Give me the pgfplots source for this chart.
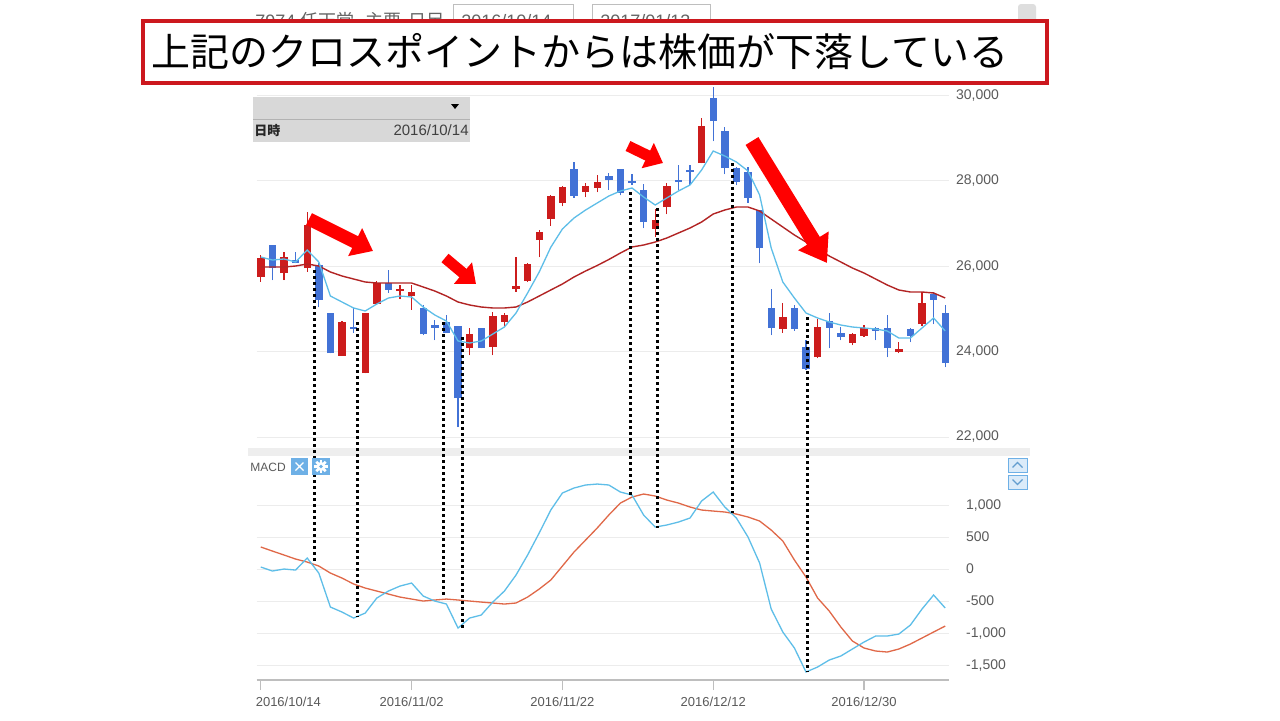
\documentclass[border=0pt]{standalone}
\usepackage{fontspec}
\setmainfont{Liberation Sans}
\newfontfamily\jp{Noto Sans CJK JP}
\usepackage{pgfplots}
\usepackage{pgfplotstable}
\pgfplotsset{compat=1.18}
\usetikzlibrary{arrows.meta}

\definecolor{cUp}{RGB}{204,28,28}
\definecolor{cDn}{RGB}{66,114,214}
\definecolor{maS}{RGB}{94,190,232}
\definecolor{maL}{RGB}{178,36,36}
\definecolor{sigc}{RGB}{224,104,72}
\definecolor{gridc}{RGB}{236,236,236}
\definecolor{labc}{RGB}{90,90,90}
\definecolor{axisc}{RGB}{190,190,190}
\definecolor{arrowc}{RGB}{255,0,0}
\definecolor{titlec}{RGB}{204,24,30}
\definecolor{sepc}{RGB}{238,238,238}
\definecolor{panelc}{RGB}{216,216,216}
\definecolor{btnc}{RGB}{110,176,230}
\definecolor{hdr}{RGB}{100,100,100}

\pgfplotstableread{
i O H L C
0 25743 26257 25626 26187
2 25836 26327 25672 26210
4 25953 27263 25860 26959
7 23895 24713 23895 24690
9 23497 24900 23497 24900
10 25111 25649 25111 25602
12 25415 25556 25228 25462
13 25298 25556 24971 25392
18 24082 24550 23918 24409
20 24105 24924 23918 24830
21 24690 24900 24573 24854
22 25462 26210 25392 25532
23 25649 26070 25626 26047
24 26608 26842 26210 26796
25 27099 27661 26936 27637
26 27474 27871 27400 27848
28 27731 27942 27614 27871
29 27825 28129 27731 27965
34 26866 27333 26679 27076
35 27380 27942 27216 27871
38 28409 29462 28409 29275
45 24526 25135 24433 24807
48 23871 24760 23848 24573
51 24199 24433 24152 24409
52 24363 24620 24340 24550
55 23988 24222 23965 24058
57 24643 25392 24596 25135
}\upT

\pgfplotstableread{
i O H L C
1 26491 26491 25672 25953
3 26140 26327 26070 26070
5 26023 26070 25041 25205
6 24900 24900 23965 23965
8 24573 25018 24433 24526
11 25602 25906 25369 25439
14 25018 25088 24386 24409
15 24620 24737 24269 24550
16 24690 24854 24433 24433
17 24596 24596 22234 22912
19 24550 24550 24082 24082
27 28269 28433 27591 27637
30 28105 28175 27778 28012
31 28269 28269 27650 27708
32 27988 28152 27895 27942
33 27778 27918 26889 27029
36 28012 28363 27778 27965
37 28246 28363 27895 28199
39 29930 30187 28924 29392
40 29158 29251 28152 28292
41 28292 28316 27890 27965
42 28199 28316 27474 27591
43 27310 27310 26070 26421
44 25018 25462 24386 24550
46 25018 25088 24480 24526
47 24105 24269 23568 23591
49 24713 24900 24082 24550
50 24433 24573 24269 24339
53 24550 24573 24269 24480
54 24550 24854 23871 24082
56 24526 24550 24222 24363
58 25345 25392 24643 25205
59 24900 25088 23637 23731
}\dnT

\pgfplotstableread{
i s l
0 26210 25977
1 26140 25977
2 26164 25977
3 26094 26000
4 26374 26047
5 26094 26000
6 25298 25860
7 25158 25766
8 25018 25696
9 24947 25626
10 25111 25602
11 25251 25602
12 25298 25602
13 25275 25602
14 25041 25509
15 24854 25415
16 24713 25298
17 24246 25158
18 24199 25088
19 24246 25041
20 24409 25018
21 24573 25018
22 24900 25041
23 25369 25158
24 25860 25298
25 26440 25439
26 26866 25579
27 27123 25743
28 27310 25883
29 27474 26012
30 27637 26152
31 27754 26304
32 27825 26445
33 27614 26491
34 27427 26561
35 27591 26655
36 27754 26772
37 27895 26889
38 28246 27029
39 28690 27216
40 28573 27310
41 28433 27380
42 28222 27380
43 27661 27287
44 26421 27099
45 25626 26912
46 25251 26725
47 24900 26561
48 24784 26398
49 24690 26234
50 24620 26094
51 24573 25953
52 24550 25836
53 24526 25696
54 24480 25556
55 24316 25439
56 24316 25392
57 24550 25392
58 24784 25369
59 24480 25252
}\maT

\pgfplotstableread{
i m g
0 31 344
1 -31 281
2 0 219
3 -16 156
4 172 109
5 -63 47
6 -594 -63
7 -672 -141
8 -766 -234
9 -688 -297
10 -453 -344
11 -344 -391
12 -266 -438
13 -219 -469
14 -422 -500
15 -500 -484
16 -547 -469
17 -922 -484
18 -766 -500
19 -719 -516
20 -516 -531
21 -344 -547
22 -94 -531
23 219 -438
24 563 -313
25 922 -172
26 1188 47
27 1266 266
28 1313 453
29 1328 641
30 1313 844
31 1203 1031
32 1156 1125
33 844 1172
34 656 1141
35 688 1078
36 734 1031
37 797 969
38 1063 922
39 1203 906
40 969 891
41 797 859
42 500 813
43 94 750
44 -625 609
45 -984 438
46 -1234 141
47 -1609 -125
48 -1531 -453
49 -1422 -656
50 -1359 -906
51 -1250 -1125
52 -1141 -1234
53 -1047 -1281
54 -1047 -1297
55 -1016 -1250
56 -875 -1172
57 -625 -1078
58 -406 -984
59 -609 -891
}\macdT

\pgfplotsset{
  candle/.style={only marks, mark size=0pt, mark options={draw=none, fill=none}, forget plot,
    error bars/.cd, y dir=plus, y explicit, error mark=none},
}

\begin{document}
\begin{tikzpicture}
\path[use as bounding box] (0,0) rectangle (640pt,360pt);
\fill[white] (0,0) rectangle (640pt,360pt);

\begin{scope}[x=0.5pt,y=-0.5pt,shift={(0pt,360pt)}]
  % screenshot header (partly hidden)
  \node[anchor=base west, inner sep=0, font=\fontsize{9}{10}\selectfont, text=hdr] at (255,27) {7974};
  \node[anchor=base west, inner sep=0, font=\jp\fontsize{9}{10}\selectfont, text=hdr] at (300,27) {任天堂};
  \node[anchor=base west, inner sep=0, font=\jp\fontsize{9}{10}\selectfont, text=hdr] at (365,27) {主要};
  \node[anchor=base west, inner sep=0, font=\jp\fontsize{9}{10}\selectfont, text=hdr] at (408,27) {日足};
  \draw[axisc, fill=white, line width=0.5pt] (453,4) rectangle (573,40);
  \draw[axisc, fill=white, line width=0.5pt] (592,4) rectangle (710,40);
  \node[anchor=base west, inner sep=0, font=\fontsize{9}{10}\selectfont, text=hdr] at (461,27) {2016/10/14};
  \node[anchor=base west, inner sep=0, font=\fontsize{9}{10}\selectfont, text=hdr] at (600,27) {2017/01/13};
  \node[anchor=base west, inner sep=0, font=\fontsize{9}{10}\selectfont, text=hdr] at (579,27) {-};
  \fill[rounded corners=1.5pt, black!13] (1018,4) rectangle (1036,22);
  % title box
  \draw[titlec, fill=white, line width=2pt] (143,21) rectangle (1047,83);
  \node[anchor=west, inner sep=0, font=\jp\fontsize{19.5}{20}\selectfont] at (151,52) {上記のクロスポイントからは株価が下落している};
  % separator band
  \fill[sepc] (248,448) rectangle (1030,456);
\end{scope}

% ---------- price panel ----------
\begin{axis}[
  at={(128.25pt,137.225pt)}, anchor=south west,
  width=346.3pt, height=183.83pt, scale only axis,
  xmin=-0.371, xmax=59.336, ymin=21800, ymax=30400,
  axis line style={draw=none},
  xtick=\empty,
  ytick={22000,24000,26000,28000,30000},
  scaled ticks=false,
  yticklabel pos=right,
  ymajorgrids, grid style={draw=gridc, line width=0.5pt},
  tick style={draw=none}, major tick length=0pt,
  yticklabel style={font=\fontsize{7}{8}\selectfont, text=labc},
  /pgf/number format/1000 sep={,},
  /pgf/number format/assume math mode=true,
]
\addplot[cUp, candle, error bar style={draw=cUp, line width=0.65pt}]
  table[x=i, y=L, y error plus expr=\thisrow{H}-\thisrow{L}] {\upT};
\addplot[cUp, candle, error bar style={draw=cUp, line width=3.7pt}]
  table[x=i, y=O, y error plus expr=\thisrow{C}-\thisrow{O}] {\upT};
\addplot[cDn, candle, error bar style={draw=cDn, line width=0.65pt}]
  table[x=i, y=L, y error plus expr=\thisrow{H}-\thisrow{L}] {\dnT};
\addplot[cDn, candle, error bar style={draw=cDn, line width=3.7pt}]
  table[x=i, y=C, y error plus expr=\thisrow{O}-\thisrow{C}] {\dnT};
\addplot[maL, line width=0.7pt, mark=none] table[x=i, y=l] {\maT};
\addplot[maS, line width=0.65pt, mark=none] table[x=i, y=s] {\maT};
\coordinate (T1) at (axis cs:4.59,25906);
\coordinate (T2) at (axis cs:8.30,24690);
\coordinate (T3) at (axis cs:15.72,24690);
\coordinate (T4) at (axis cs:17.35,24339);
\coordinate (T5) at (axis cs:31.88,27731);
\coordinate (T6) at (axis cs:34.16,27356);
\coordinate (T7) at (axis cs:40.65,28409);
\coordinate (T8) at (axis cs:47.12,24807);
\end{axis}

% ---------- MACD panel ----------
\begin{axis}[
  at={(128.25pt,20pt)}, anchor=south west,
  width=346.3pt, height=112pt, scale only axis,
  xmin=-0.371, xmax=59.336, ymin=-1734, ymax=1766,
  axis x line*=bottom, axis y line*=right,
  y axis line style={draw=none},
  x axis line style={draw=axisc, line width=0.6pt},
  xtick={0,13,26,39,52},
  xticklabels={\makebox[0pt][l]{\hspace*{-2.5pt}2016/10/14},2016/11/02,2016/11/22,2016/12/12,2016/12/30},
  ytick={-1500,-1000,-500,0,500,1000},
  scaled ticks=false,
  ymajorgrids, grid style={draw=gridc, line width=0.5pt},
  tick align=outside, major tick length=5pt,
  xtick style={draw=axisc, line width=0.6pt},
  ytick style={draw=none},
  yticklabel style={font=\fontsize{7}{8}\selectfont, text=labc},
  xticklabel style={font=\fontsize{6.5}{7.5}\selectfont, text=labc},
  /pgf/number format/1000 sep={,},
  /pgf/number format/assume math mode=true,
]
\addplot[sigc, line width=0.65pt, mark=none] table[x=i, y=g] {\macdT};
\addplot[maS, line width=0.65pt, mark=none] table[x=i, y=m] {\macdT};
\coordinate (B1) at (axis cs:4.59,94);
\coordinate (B2) at (axis cs:8.30,-750);
\coordinate (B3) at (axis cs:15.72,-438);
\coordinate (B4) at (axis cs:17.35,-922);
\coordinate (B5) at (axis cs:31.88,1156);
\coordinate (B6) at (axis cs:34.16,641);
\coordinate (B7) at (axis cs:40.65,875);
\coordinate (B8) at (axis cs:47.12,-1609);
\end{axis}

% dotted connector lines
\foreach \k in {1,...,8}{
  \draw[black, line width=1.5pt, dash pattern=on 1.5pt off 1.5pt] (T\k) -- (B\k);
}

\begin{scope}[x=0.5pt,y=-0.5pt,shift={(0pt,360pt)}]
  % info panel
  \fill[panelc] (253,97) rectangle (470,142);
  \draw[black!30, line width=0.5pt] (253,119) -- (470,119);
  \fill[black] (451,104) -- (459,104) -- (455,109) -- cycle;
  \node[anchor=west, inner sep=0, font=\jp\bfseries\fontsize{6.5}{7}\selectfont, text=black!85] at (254,130.5) {日時};
  \node[anchor=east, inner sep=0, font=\fontsize{7.5}{8}\selectfont, text=black!75] at (469,130.5) {2016/10/14};
  % MACD label and buttons
  \node[anchor=west, inner sep=0, font=\fontsize{6}{7}\selectfont, text=labc] at (250,467) {MACD};
  \fill[btnc] (291,458) rectangle (308,475);
  \draw[white, line width=0.7pt] (295.5,462.5) -- (303.5,470.5) (303.5,462.5) -- (295.5,470.5);
  \fill[btnc] (312,458) rectangle (330,475);
  \foreach \a in {0,45,...,315}{
    \fill[white, rotate around={\a:(321,466.5)}] (319.7,459.8) rectangle (322.3,462.5);
  }
  \fill[white] (321,466.5) circle (4.6);
  \fill[btnc] (321,466.5) circle (1.9);
  % up / down buttons
  \draw[btnc, fill=btnc!25, line width=0.5pt] (1008,458) rectangle (1027,472);
  \draw[btnc!90!black, line width=0.6pt] (1012.5,467.5) -- (1017.5,462.5) -- (1022.5,467.5);
  \draw[btnc, fill=btnc!25, line width=0.5pt] (1008,475) rectangle (1027,489);
  \draw[btnc!90!black, line width=0.6pt] (1012.5,479.5) -- (1017.5,484.5) -- (1022.5,479.5);
  % block arrows
  \draw[arrowc, line width=6.5pt, -{Triangle[length=10pt,width=15pt]}] (309,219) -- (373,251);
  \draw[arrowc, line width=5.5pt, -{Triangle[length=8.5pt,width=13.5pt]}] (445,258) -- (476,284);
  \draw[arrowc, line width=5.5pt, -{Triangle[length=8.5pt,width=13.5pt]}] (628,146) -- (663,163);
  \draw[arrowc, line width=7.5pt, -{Triangle[length=13pt,width=17pt]}] (752,141) -- (827,263);
\end{scope}
\end{tikzpicture}
\end{document}
